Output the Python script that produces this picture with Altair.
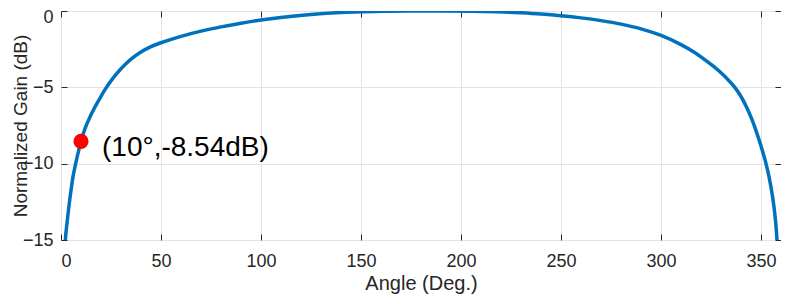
import altair as alt
import pandas as pd

angle = [1.7, 2.2, 3, 4, 5, 6, 7, 8, 10, 12, 15, 19.5, 22, 26, 30, 35, 40, 45, 50, 60, 70, 80,
         90, 100, 110, 125, 140, 150, 160, 175, 190, 205, 218, 230, 240, 250, 260, 270, 280,
         290, 300, 310, 316, 322, 326, 330, 334, 337, 340, 342.8, 345, 347.8, 350, 352.5,
         354, 355.7, 357, 357.8, 358.3]
gain = [-16.5, -15, -13.9, -12.75, -11.75, -10.85, -10.2, -9.6, -8.54, -7.7, -6.8, -5.7,
        -5.15, -4.4, -3.78, -3.15, -2.68, -2.33, -2.08, -1.66, -1.32, -1.04, -0.8, -0.59,
        -0.42, -0.23, -0.1, -0.05, -0.02, 0, 0, -0.01, -0.05, -0.12, -0.2, -0.31, -0.45,
        -0.63, -0.86, -1.17, -1.6, -2.2, -2.65, -3.2, -3.6, -4.05, -4.57, -5.02, -5.6, -6.3,
        -6.95, -7.95, -8.85, -10.0, -10.85, -12.1, -13.4, -14.6, -15.7]

mark_angle = [10]
mark_gain = [-8.54]
mark_label = ["(10°,-8.54dB)"]

x_ticks = [0, 50, 100, 150, 200, 250, 300, 350]
y_ticks = [0, -5, -10, -15]

W, H = 720, 229
FONT = "Liberation Sans"
TXT = "#262626"

curve = pd.DataFrame({"angle": angle, "gain": gain})
marker = pd.DataFrame({"angle": mark_angle, "gain": mark_gain, "label": mark_label})

xs = alt.Scale(domain=[0, 360], nice=False, zero=False)
ys = alt.Scale(domain=[-15, 0], nice=False, zero=False)

# main axes: labels, titles, grid
x_main = alt.Axis(values=x_ticks, title="Angle (Deg.)", orient="bottom", grid=True,
                  gridColor="#e3e3e3", ticks=False, tickSize=0, domain=False,
                  labelPadding=12, titleY=49, titleBaseline="alphabetic",
                  labelFontSize=18, titleFontSize=20,
                  labelFont=FONT, titleFont=FONT, labelColor=TXT, titleColor=TXT,
                  titleFontWeight="normal")
y_main = alt.Axis(values=y_ticks, title="Normalized Gain (dB)", orient="left", grid=True,
                  gridColor="#e3e3e3", ticks=False, tickSize=0, domain=False,
                  labelPadding=8, titleX=-35, titleBaseline="alphabetic",
                  labelOffset={"condition": {"test": "datum.value === 0", "value": 6}, "value": 0},
                  labelFontSize=18, titleFontSize=19,
                  labelFont=FONT, titleFont=FONT, labelColor=TXT, titleColor=TXT,
                  titleFontWeight="normal")

line = alt.Chart(curve).mark_line(color="#0072BD", strokeWidth=3.5, clip=True,
                                  interpolate="monotone").encode(
    x=alt.X("angle:Q", scale=xs, axis=x_main),
    y=alt.Y("gain:Q", scale=ys, axis=y_main),
)

# inward ticks at bottom and left
x_in_b = alt.Axis(values=x_ticks, orient="top", offset=-H, labels=False, title=None,
                  grid=False, domain=False, tickSize=6, tickColor=TXT)
y_in_l = alt.Axis(values=y_ticks, orient="right", offset=-W, labels=False, title=None,
                  grid=False, domain=False, tickSize=6, tickColor=TXT)
dot = alt.Chart(marker).mark_point(filled=True, color="#FF0000", size=230, opacity=1).encode(
    x=alt.X("angle:Q", scale=xs, axis=x_in_b),
    y=alt.Y("gain:Q", scale=ys, axis=y_in_l),
)

# inward ticks at top and right
x_in_t = alt.Axis(values=x_ticks, orient="bottom", offset=-H, labels=False, title=None,
                  grid=False, domain=False, tickSize=6, tickColor=TXT)
y_in_r = alt.Axis(values=y_ticks, orient="left", offset=-W, labels=False, title=None,
                  grid=False, domain=False, tickSize=6, tickColor=TXT)
label = alt.Chart(marker).mark_text(align="left", baseline="alphabetic", dx=21, dy=14.5,
                                    fontSize=28, font=FONT, color="#000000").encode(
    x=alt.X("angle:Q", scale=xs, axis=x_in_t),
    y=alt.Y("gain:Q", scale=ys, axis=y_in_r),
    text="label:N",
)

chart = alt.layer(line, dot, label).resolve_axis(x="independent", y="independent").properties(
    width=W, height=H,
    autosize=alt.AutoSizeParams(type="none"),
    padding={"left": 53, "top": 3, "right": 0, "bottom": 56},
).configure_view(stroke="#404040", strokeWidth=1).configure(background="white")

chart.save("out.html", embed_options={"renderer": "svg", "actions": False})
